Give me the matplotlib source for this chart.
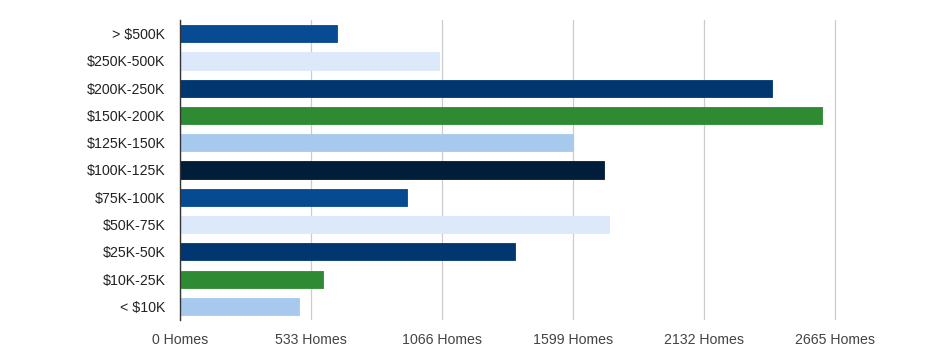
import matplotlib
matplotlib.use("Agg")
import matplotlib.pyplot as plt

categories = ["> $500K", "$250K-500K", "$200K-250K", "$150K-200K", "$125K-150K",
              "$100K-125K", "$75K-100K", "$50K-75K", "$25K-50K", "$10K-25K", "< $10K"]
values = [640, 1054, 2408, 2612, 1599, 1725, 924, 1746, 1363, 583, 485]
colors = ["#074b93", "#dbe9fa", "#003770", "#2e8b34", "#a8c9ee",
          "#001d3a", "#064a92", "#dbe9fa", "#003770", "#2e8b34", "#a8c9ee"]
xticks = [0, 533, 1066, 1599, 2132, 2665]
xticklabels = [f"{t} Homes" for t in xticks]

plt.rcParams['font.family'] = ['Liberation Sans', 'DejaVu Sans']

fig = plt.figure(figsize=(9.32, 3.6), dpi=100)
ax = fig.add_axes([180/932, 1-320/360, (838-180)/932, 300/360])

n = len(categories)
ypos = list(range(n))[::-1]
ax.barh(ypos, values, height=0.63, color=colors, edgecolor=colors, linewidth=0.6, zorder=3)
ax.set_ylim(-0.5, n-0.5)
ax.set_xlim(0, 2665 * (838-180) / (834.7-180))
ax.set_yticks(ypos)
ax.set_yticklabels(categories, fontsize=10.2, color="#222222")
ax.set_xticks(xticks)
ax.set_xticklabels(xticklabels, fontsize=10.2, color="#444444")
ax.tick_params(axis='both', length=0)
ax.tick_params(axis='y', pad=10.5)
ax.tick_params(axis='x', pad=9)
ax.grid(axis='x', color="#cccccc", linewidth=0.9, zorder=0)
for s in ["top", "right", "bottom"]:
    ax.spines[s].set_visible(False)
ax.spines["left"].set_color("#333333")
ax.spines["left"].set_linewidth(1.0)
ax.spines["left"].set_zorder(4)

fig.savefig("out.png", dpi=100)
